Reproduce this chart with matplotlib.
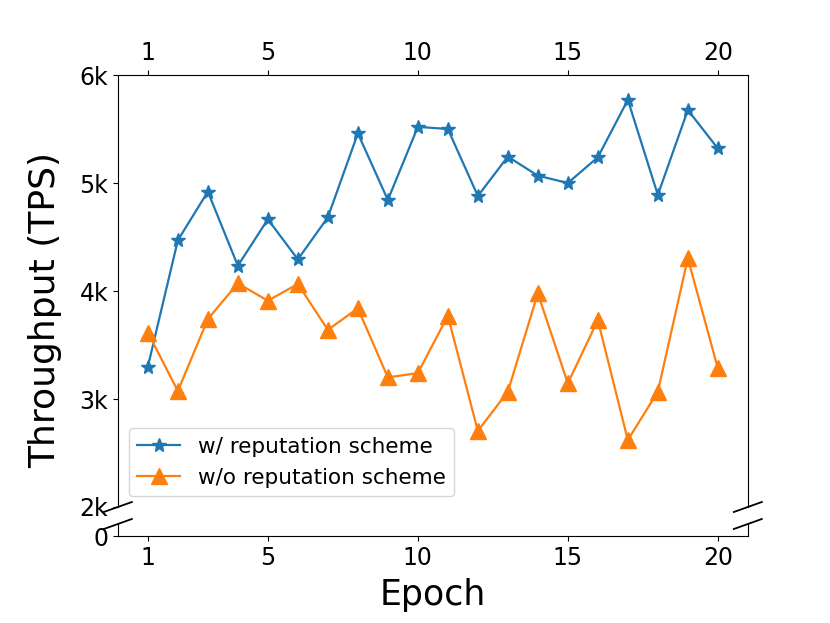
import numpy as np
import matplotlib
matplotlib.use('Agg')
import matplotlib.pyplot as plt

epochs = list(range(1, 21))
with_rep = [3300, 4470, 4920, 4234, 4664, 4293, 4682, 5460, 4843, 5520,
            5500, 4880, 5244, 5068, 5000, 5238, 5770, 4890, 5676, 5320]
without_rep = [3615, 3074, 3740, 4071, 3910, 4065, 3640, 3840, 3200, 3240,
               3770, 2704, 3068, 3978, 3145, 3731, 2620, 3068, 4303, 3284]
x_ticks = [1, 5, 10, 15, 20]
y_ticks = [2000, 3000, 4000, 5000, 6000]
y_labels = ['2k', '3k', '4k', '5k', '6k']

fig = plt.figure(figsize=(8.3, 6.23), dpi=100)
ax1 = fig.add_axes([0.142, 0.1862, 0.759, 0.6934])
ax2 = fig.add_axes([0.142, 0.1396, 0.759, 0.0193])

for ax in (ax1, ax2):
    ax.plot(epochs, with_rep, marker='*', markersize=10, linewidth=1.6,
            color='#1f77b4', label='w/ reputation scheme')
    ax.plot(epochs, without_rep, marker='^', markersize=11, linewidth=1.6,
            color='#ff7f0e', label='w/o reputation scheme')
    ax.set_xlim(0, 21)
    ax.set_xticks(x_ticks)
    ax.tick_params(labelsize=17)

ax1.set_ylim(2000, 6000)
ax1.set_yticks(y_ticks)
ax1.set_yticklabels(y_labels)
ax2.set_ylim(0, 200)
ax2.set_yticks([0])

ax1.spines['bottom'].set_visible(False)
ax2.spines['top'].set_visible(False)
ax1.xaxis.tick_top()
ax2.xaxis.tick_bottom()

# break marks
kw = dict(color='k', clip_on=False, linewidth=1.3)
for ax, yy in ((ax1, 0), (ax2, 1)):
    bb = ax.get_window_extent()
    dy = 10 / bb.height
    dx = 14 / bb.width
    for xx in (0, 1):
        ax.plot([xx - dx, xx + dx], [yy - dy / 2, yy + dy / 2],
                transform=ax.transAxes, **kw)

ax1.set_ylabel('Throughput (TPS)', fontsize=26)
ax1.yaxis.set_label_coords(-0.089, 0.455)
ax2.set_xlabel('Epoch', fontsize=25, labelpad=6)
ax1.legend(loc='lower left', fontsize=15.5)

fig.savefig('out.png', dpi=100)
